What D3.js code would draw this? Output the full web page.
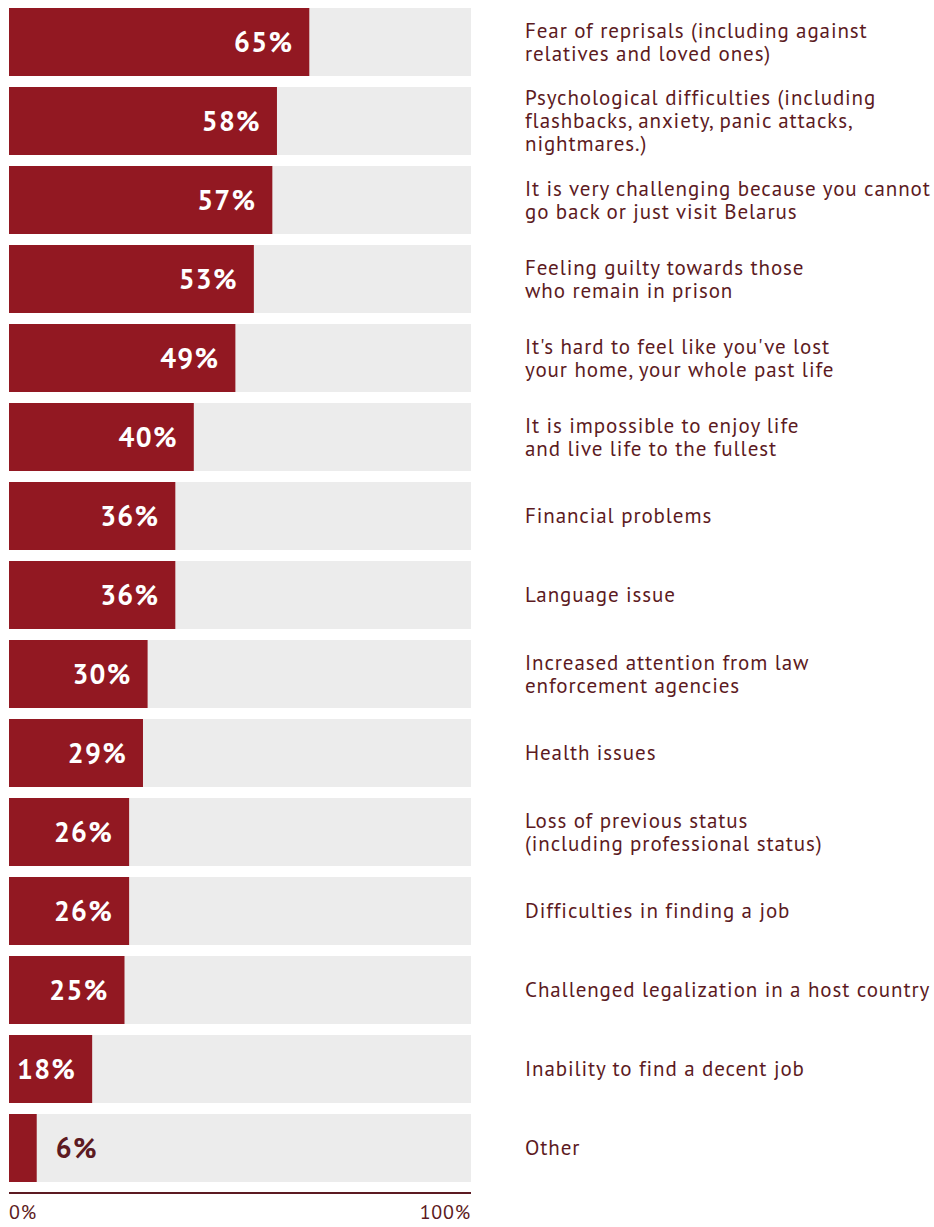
<!DOCTYPE html>
<html>
<head>
<meta charset="utf-8">
<script src="https://cdn.jsdelivr.net/npm/d3@7/dist/d3.min.js"></script>
<style>
  html, body { margin: 0; padding: 0; background: #fff; }
  svg { display: block; }
</style>
</head>
<body>
<svg id="chart" width="934" height="1227"></svg>
<script>
// Answer categories (line breaks as displayed)
const categories = [
  ["Fear of reprisals (including against", "relatives and loved ones)"],
  ["Psychological difficulties (including", "flashbacks, anxiety, panic attacks,", "nightmares.)"],
  ["It is very challenging because you cannot", "go back or just visit Belarus"],
  ["Feeling guilty towards those", "who remain in prison"],
  ["It's hard to feel like you've lost", "your home, your whole past life"],
  ["It is impossible to enjoy life", "and live life to the fullest"],
  ["Financial problems"],
  ["Language issue"],
  ["Increased attention from law", "enforcement agencies"],
  ["Health issues"],
  ["Loss of previous status", "(including professional status)"],
  ["Difficulties in finding a job"],
  ["Challenged legalization in a host country"],
  ["Inability to find a decent job"],
  ["Other"]
];

// Share of respondents, %
const values = [65, 58, 57, 53, 49, 40, 36, 36, 30, 29, 26, 26, 25, 18, 6];

// Axis tick labels
const tickValues = [0, 100];
const tickLabels = ["0%", "100%"];

const barColor = "#921822";
const trackColor = "#ececec";
const textColor = "#5c1a22";
const fontFamily = "'PT Sans', 'Noto Sans', 'Open Sans', sans-serif";

const svg = d3.select("#chart");

const x = d3.scaleLinear().domain([0, 100]).range([9, 471]);
const y = d3.scaleBand()
  .domain(d3.range(categories.length))
  .range([8, 1182])
  .paddingInner(11 / 79)
  .paddingOuter(0);

const rows = svg.append("g").selectAll("g.row")
  .data(values.map((v, i) => ({ v, i, lines: categories[i] })))
  .join("g")
  .attr("class", "row");

// Full-width track
rows.append("rect")
  .attr("x", x(0))
  .attr("y", d => y(d.i))
  .attr("width", x(100) - x(0))
  .attr("height", y.bandwidth())
  .attr("fill", trackColor);

// Value bar
rows.append("rect")
  .attr("x", x(0))
  .attr("y", d => y(d.i))
  .attr("width", d => x(d.v) - x(0))
  .attr("height", y.bandwidth())
  .attr("fill", barColor);

// Value labels: inside the bar when it fits, otherwise just after it
rows.append("text")
  .each(function (d) {
    const inside = d.v >= 12;
    const t = d3.select(this);
    t.attr("x", inside ? x(d.v) - 16 : x(d.v) + 19)
      .attr("text-anchor", inside ? "end" : "start")
      .attr("fill", inside ? "#fff" : textColor);
  })
  .attr("y", d => y(d.i) + y.bandwidth() / 2)
  .attr("dy", "0.36em")
  .attr("font-family", fontFamily)
  .attr("font-weight", "bold")
  .attr("font-size", 28)
  .attr("letter-spacing", 1.3)
  .text(d => d.v + "%");

// Category labels, vertically centred on the bar
const lineH = 23;
rows.append("text")
  .attr("font-family", fontFamily)
  .attr("font-size", 21)
  .attr("letter-spacing", 0.9)
  .attr("fill", textColor)
  .each(function (d) {
    const t = d3.select(this);
    const n = d.lines.length;
    const cy = y(d.i) + y.bandwidth() / 2;
    d.lines.forEach((line, k) => {
      t.append("tspan")
        .attr("x", 525)
        .attr("y", cy + (k - (n - 1) / 2) * lineH)
        .attr("dy", "0.35em")
        .text(line);
    });
  });

// Bottom axis
const axisG = svg.append("g").attr("transform", "translate(0,1193)");
axisG.append("line")
  .attr("x1", x(0)).attr("x2", x(100))
  .attr("stroke", textColor)
  .attr("stroke-width", 2);
axisG.selectAll("text")
  .data(tickValues)
  .join("text")
  .attr("x", d => x(d))
  .attr("y", 26)
  .attr("text-anchor", (d, i) => i === 0 ? "start" : "end")
  .attr("font-family", fontFamily)
  .attr("font-size", 20)
  .attr("letter-spacing", 0.8)
  .attr("fill", textColor)
  .text((d, i) => tickLabels[i]);
</script>
</body>
</html>
